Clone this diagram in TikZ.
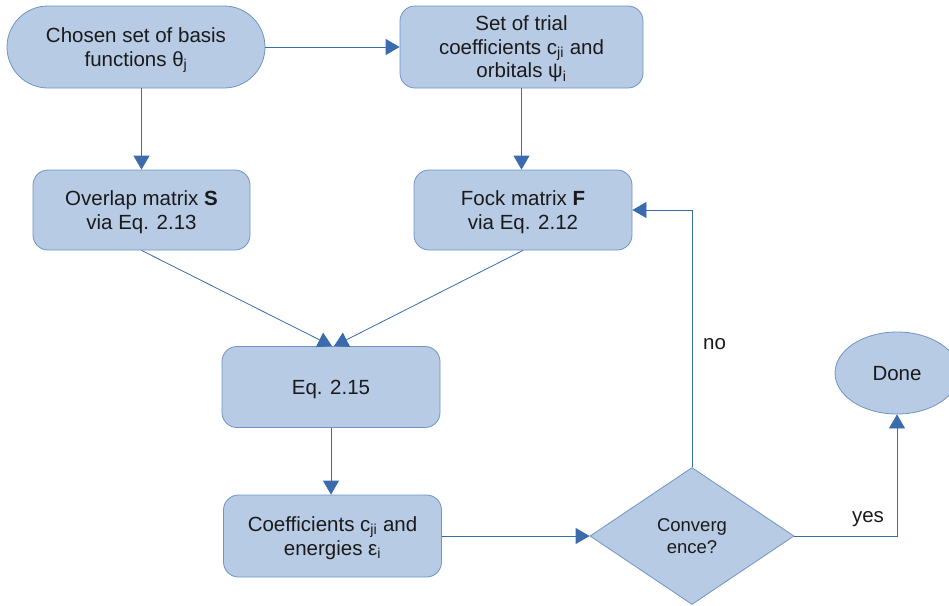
\documentclass[tikz,border=0pt]{standalone}
\usepackage{fontspec}
\setmainfont{Liberation Sans}
\usetikzlibrary{shapes.geometric,arrows.meta}
\definecolor{boxfill}{HTML}{B7CBE5}
\definecolor{boxline}{HTML}{6F93C6}
\definecolor{arrowc}{HTML}{3A6BAD}
\definecolor{txt}{HTML}{1A1A1A}
\begin{document}
\begin{tikzpicture}[x=1pt,y=-1pt,
  base/.style={fill=boxfill,draw=boxline,line width=0.8pt,text=txt,
    font=\fontsize{20.5}{23.5}\selectfont,align=center,inner sep=0pt,text depth=0pt},
  procbox/.style={base,rounded corners=15pt,minimum width=218pt,minimum height=81pt},
  termbox/.style={base,rounded corners=41pt,minimum width=258pt,minimum height=82pt},
  decide/.style={base,diamond,minimum width=204pt,minimum height=137pt,
    font=\fontsize{18.5}{22}\selectfont},
  endbox/.style={base,ellipse,minimum width=124pt,minimum height=82pt},
  conn/.style={draw=arrowc,line width=0.8pt,-{Triangle[length=14pt,width=16pt]}},
  lbl/.style={text=txt,font=\fontsize{20.5}{23.5}\selectfont,inner sep=0pt,anchor=base}]
\useasboundingbox (0,0) rectangle (949,605);

\node[termbox] (A) at (136,47) {Chosen set of basis\\functions θ\textsubscript{j}};
\node[procbox,minimum width=243pt,minimum height=82pt] (B) at (521.5,47)
  {Set of trial\\coefficients c\textsubscript{ji} and\\orbitals ψ\textsubscript{i}};
\node[procbox,minimum width=217pt,minimum height=80pt] (C) at (141.5,210)
  {Overlap matrix \textbf{S}\\via Eq. 2.13};
\node[procbox,minimum height=80pt] (D) at (523,210)
  {Fock matrix \textbf{F}\\ via Eq. 2.12};
\node[procbox] (E) at (331,387) {Eq. 2.15};
\node[procbox,minimum height=82pt] (F) at (332.5,536)
  {Coefficients c\textsubscript{ji} and\\energies ε\textsubscript{i}};
\node[decide] (G) at (692,536) {Converg\\ence?};
\node[endbox] (H) at (897,373) {Done};

\node[lbl] (no) at (714.5,349) {no};
\node[lbl] (yes) at (868,522) {yes};

\draw[conn] (A.east) -- (B.west);
\draw[conn] (A.south -| C.north) -- (C.north);
\draw[conn] (B.south) -- (B.south |- D.north);
\draw[conn] (C.south) -- ([xshift=1pt]E.north);
\draw[conn] (D.south) -- ([xshift=3pt]E.north);
\draw[conn] (E.south) -- (E.south |- F.north);
\draw[conn] (F.east) -- (G.west);
\draw[conn] (G.north) |- (D.east);
\draw[conn] (G.east) -| (H.south);
\end{tikzpicture}
\end{document}
